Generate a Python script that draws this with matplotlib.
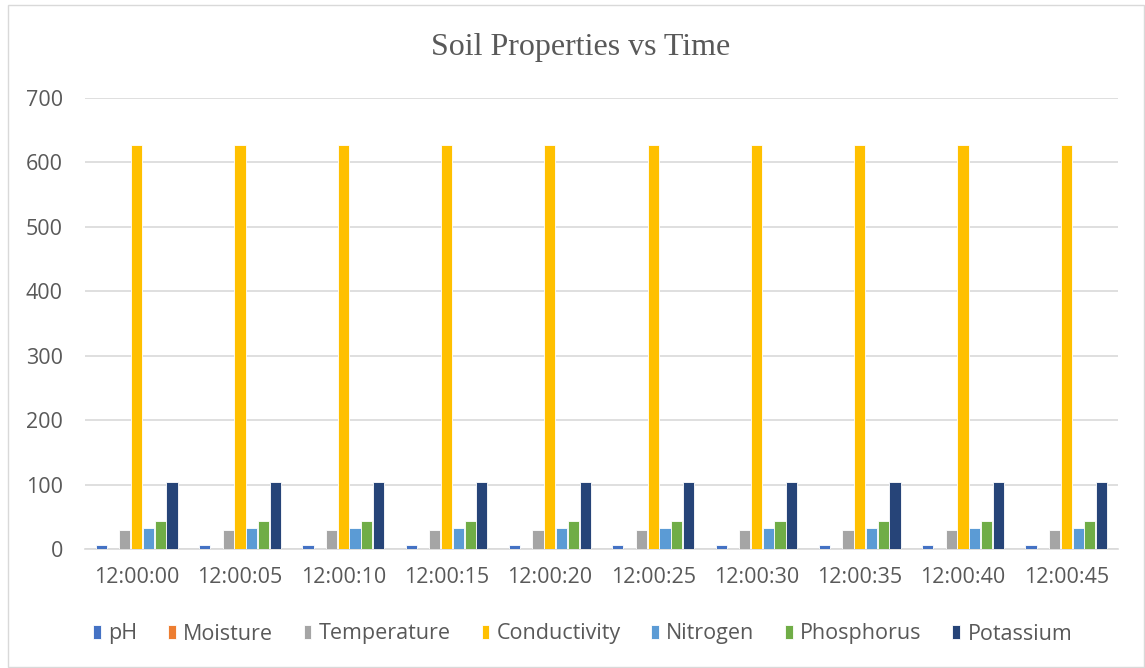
import numpy as np
import matplotlib
matplotlib.use("Agg")
import matplotlib.pyplot as plt
from matplotlib.patches import Rectangle

# data
times = ["12:00:00", "12:00:05", "12:00:10", "12:00:15", "12:00:20",
         "12:00:25", "12:00:30", "12:00:35", "12:00:40", "12:00:45"]
ph = [6] * 10
moisture = [0] * 10
temperature = [29] * 10
conductivity = [627] * 10
nitrogen = [32] * 10
phosphorus = [44] * 10
potassium = [104] * 10

series = [("pH", ph, "#4472C4"),
          ("Moisture", moisture, "#ED7D31"),
          ("Temperature", temperature, "#A5A5A5"),
          ("Conductivity", conductivity, "#FFC000"),
          ("Nitrogen", nitrogen, "#5B9BD5"),
          ("Phosphorus", phosphorus, "#70AD47"),
          ("Potassium", potassium, "#264478")]

text_col = "#595959"
plt.rcParams["font.family"] = ["Open Sans", "DejaVu Sans"]

fig = plt.figure(figsize=(11.45, 6.68), dpi=100)
ax = fig.add_axes([85 / 1145, 1 - 549 / 668, 1033 / 1145, 451 / 668])

x = np.arange(len(times))
slot = 0.114
for i, (name, vals, col) in enumerate(series):
    off = (i - 3) * slot
    ax.bar(x + off, vals, width=slot * 0.95, color=col, edgecolor="white",
           linewidth=0.6, label=name, zorder=3)

ax.set_xlim(-0.5, len(times) - 0.5)
ax.set_ylim(0, 700)
ax.set_yticks(range(0, 701, 100))
ax.set_xticks(x)
ax.set_xticklabels(times)
ax.grid(axis="y", color="#D9D9D9", linewidth=1.2, zorder=0)
for s in ["top", "right", "left"]:
    ax.spines[s].set_visible(False)
ax.spines["bottom"].set_color("#D9D9D9")
ax.spines["bottom"].set_linewidth(1.2)
ax.tick_params(axis="both", length=0, labelsize=15.5, colors=text_col)
ax.tick_params(axis="x", pad=13)
ax.tick_params(axis="y", pad=16)

fig.text(0.507, 1 - 48 / 668, "Soil Properties vs Time", ha="center", va="center",
         fontsize=23, color=text_col, family="Liberation Serif")

leg = fig.legend(loc="center", bbox_to_anchor=(0.509, 1 - 634 / 668), ncol=7,
                 frameon=False, fontsize=15.5, handlelength=0.35, handleheight=0.65,
                 handletextpad=0.35, columnspacing=1.42)
for t in leg.get_texts():
    t.set_color(text_col)

fig.patches.append(Rectangle((8 / 1145, 0.002), 1 - 9 / 1145, 1 - 6 / 668,
                             transform=fig.transFigure, fill=False,
                             edgecolor="#D9D9D9", linewidth=1))

fig.savefig("out.png", dpi=100, facecolor="white")
